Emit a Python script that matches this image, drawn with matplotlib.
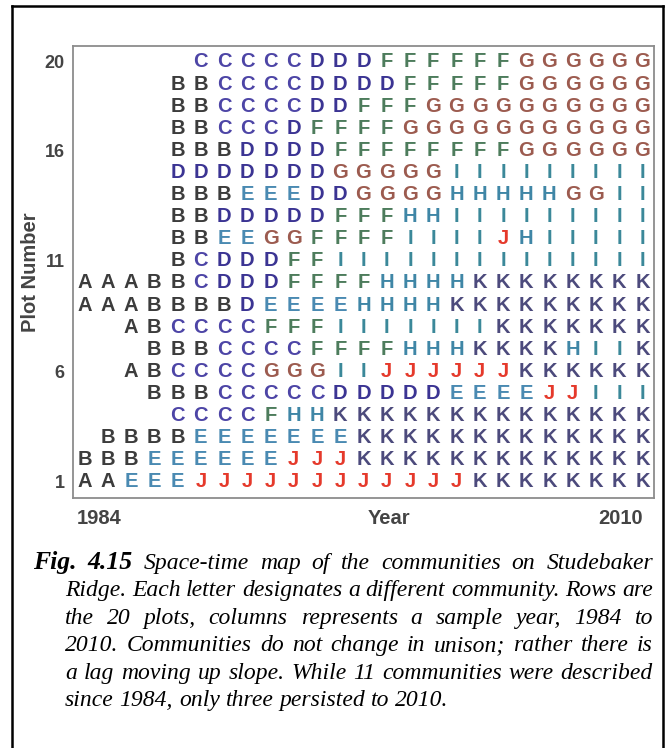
import matplotlib
matplotlib.use("Agg")
import matplotlib.pyplot as plt
from matplotlib.font_manager import FontProperties
from matplotlib.lines import Line2D

# ---------------- data ----------------
# community letter per sample column (25 samples, 1984 -> 2010); '.' = not sampled
plot_rows = {
    20: ".....CCCCCDDDFFFFFFGGGGGG",
    19: "....BBCCCCDDDDFFFFFGGGGGG",
    18: "....BBCCCCDDFFFGGGGGGGGGG",
    17: "....BBCCCDFFFFGGGGGGGGGGG",
    16: "....BBBDDDDFFFFFFFFGGGGGG",
    15: "....DDDDDDDGGGGGIIIIIIIII",
    14: "....BBBEEEDDGGGGHHHHHGGII",
    13: "....BBDDDDDFFFHHIIIIIIIII",
    12: "....BBEEGGFFFFIIIIJHIIIII",
    11: "....BCDDDFFIIIIIIIIIIIIII",
    10: "AAABBCDDDFFFFHHHHKKKKKKKK",
    9:  "AAABBBBDEEEEHHHHKKKKKKKKK",
    8:  "..ABCCCCFFFIIIIIIIKKKKKKK",
    7:  "...BBBCCCCFFFFHHHKKKKHIIK",
    6:  "..ABCCCCGGGIIJJJJJJKKKKKK",
    5:  "...BBBCCCCCDDDDDEEEEJJIII",
    4:  "....CCCCFHHKKKKKKKKKKKKKK",
    3:  ".BBBBEEEEEEEKKKKKKKKKKKKK",
    2:  "BBBEEEEEEJJJKKKKKKKKKKKKK",
    1:  "AAEEEJJJJJJJJJJJJKKKKKKKK",
}
community_colors = {
    "A": "#3c3c3c", "B": "#3c3c3c", "C": "#4d45a6", "D": "#3b3493",
    "E": "#4a8ab2", "F": "#4d7c5c", "G": "#9c5b4f", "H": "#3f86a6",
    "I": "#3b8899", "J": "#e5392b", "K": "#4c4a7c",
}
plot_ticks = [1, 6, 11, 16, 20]
first_year, last_year = "1984", "2010"
x_title, y_title = "Year", "Plot Number"
caption_lines = [
    "Fig. 4.15 Space-time map of the communities on Studebaker",
    "Ridge. Each letter designates a different community. Rows are",
    "the 20 plots, columns represents a sample year, 1984 to",
    "2010. Communities do not change in unison; rather there is",
    "a lag moving up slope. While 11 communities were described",
    "since 1984, only three persisted to 2010.",
]

# ---------------- figure ----------------
W, H = 667, 748
fig = plt.figure(figsize=(W / 100, H / 100), dpi=100)
fig.patch.set_facecolor("white")

def fx(px):
    return px / W

def fy(py):
    return 1 - py / H

ax_l, ax_r, ax_t, ax_b = 73, 654, 46, 498
ax = fig.add_axes([fx(ax_l), fy(ax_b), fx(ax_r) - fx(ax_l), fy(ax_t) - fy(ax_b)])
ncol = len(plot_rows[1])
ax.set_xlim(-0.5, ncol - 0.5)
ax.set_ylim(0.27, 20.72)
for sp in ax.spines.values():
    sp.set_color("#8c8c8c")
    sp.set_linewidth(1.3)

grid_fp = FontProperties(family="Liberation Sans", weight="bold", size=14.5)
for plot_no, letters in plot_rows.items():
    for col, ch in enumerate(letters):
        if ch == ".":
            continue
        ax.text(col, plot_no, ch, ha="center", va="center",
                color=community_colors[ch], fontproperties=grid_fp)

ax.set_xticks([])
ax.set_yticks(plot_ticks)
ax.set_yticklabels([str(t) for t in plot_ticks])
ax.tick_params(axis="y", length=0, pad=6, labelsize=13, labelcolor="#444444")
for lab in ax.get_yticklabels():
    lab.set_fontweight("bold")
    lab.set_family("Liberation Sans")

lab_fp = FontProperties(family="Liberation Sans", weight="bold", size=14.5)
trans = ax.get_xaxis_transform()
ax.text(-0.33, -0.045, first_year, ha="left", va="center", transform=trans,
        fontproperties=lab_fp, color="#444444")
ax.text(24.03, -0.045, last_year, ha="right", va="center", transform=trans,
        fontproperties=lab_fp, color="#444444")
ax.text(13.1, -0.045, x_title, ha="center", va="center", transform=trans,
        fontproperties=lab_fp, color="#444444")
fig.text(fx(30), fy(272), y_title, rotation=90, ha="center", va="center",
         fontproperties=lab_fp, color="#444444")

# outer frame
for xs, ys in [((12, 12), (6, 760)), ((12, 663), (6, 6)), ((663, 663), (6, 760))]:
    fig.add_artist(Line2D([fx(x) for x in xs], [fy(y) for y in ys],
                          color="black", lw=1.8, transform=fig.transFigure))

# ---------------- caption (justified) ----------------
renderer = fig.canvas.get_renderer()
cap_fp = FontProperties(family="Liberation Serif", style="italic", size=17)
figno_fp = FontProperties(family="Liberation Serif", style="italic",
                          weight="bold", size=18.5)

def width(txt, fp):
    t = fig.text(0, 0, txt, fontproperties=fp)
    w = t.get_window_extent(renderer).width
    t.remove()
    return w

space_w = width("a a", cap_fp) - width("aa", cap_fp)
right_px = 653
base0, step = 569, 27.4
for i, line in enumerate(caption_lines):
    words = line.split(" ")
    fps = [cap_fp] * len(words)
    if i == 0:
        fps[0] = figno_fp
        fps[1] = figno_fp
    left_px = 33 if i == 0 else 65
    widths = [width(w_, f_) for w_, f_ in zip(words, fps)]
    if i < len(caption_lines) - 1:
        gap = (right_px - left_px - sum(widths)) / (len(words) - 1)
    else:
        gap = space_w
    x = left_px
    y = base0 + step * i
    for w_, f_, wd in zip(words, fps, widths):
        fig.text(fx(x), fy(y), w_, ha="left", va="baseline", fontproperties=f_, color="black")
        x += wd + gap

fig.savefig("out.png", dpi=100)
